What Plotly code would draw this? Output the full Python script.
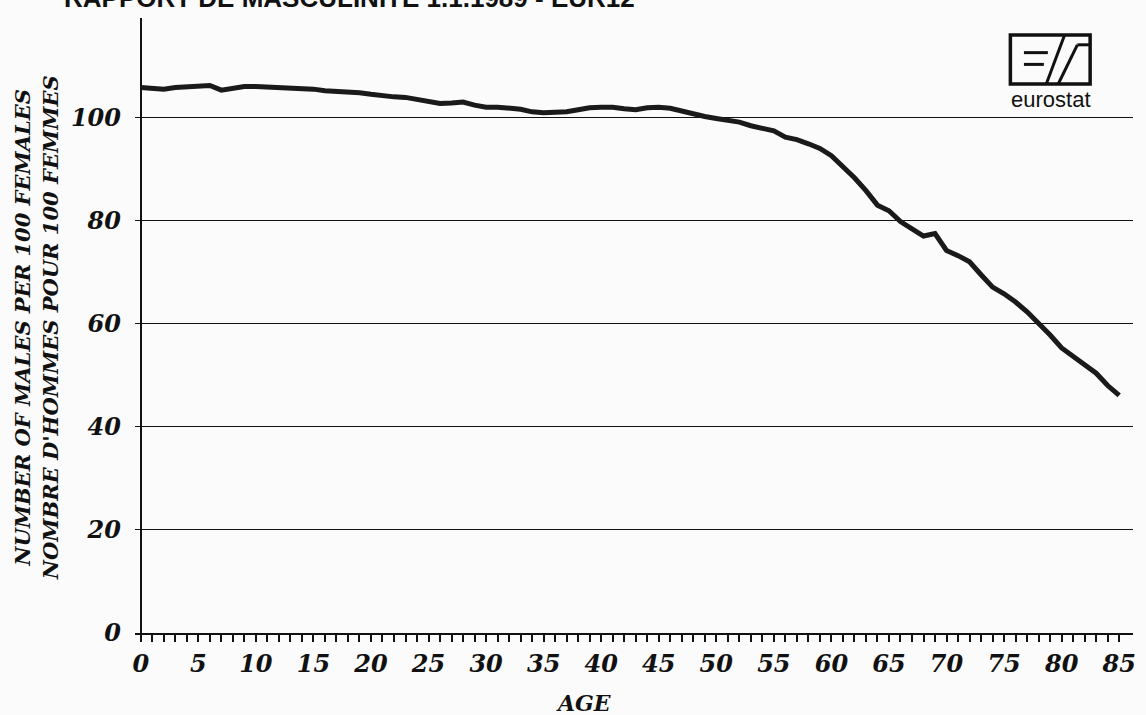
import plotly.graph_objects as go

# Sex ratio (males per 100 females) by single year of age, EUR12, 1.1.1989
ages = list(range(0, 86))
ratio = [105.8, 105.6, 105.5, 105.8, 105.9, 106.0, 106.2, 105.3, 105.6, 106.0,
         106.0, 105.9, 105.9, 105.8, 105.7, 105.5, 105.2, 105.1, 105.1, 104.8,
         104.5, 104.2, 104.0, 103.9, 103.5, 102.9, 102.7, 102.8, 103.0, 102.4,
         102.0, 102.0, 101.9, 101.6, 101.1, 100.9, 101.0, 101.1, 101.5, 101.9,
         102.0, 102.0, 101.7, 101.5, 101.9, 102.0, 101.8, 101.2, 100.6, 100.2,
         99.8, 99.5, 99.1, 98.4, 97.8, 97.4, 96.2, 95.7, 94.9, 94.0,
         92.6, 90.6, 88.3, 85.8, 83.0, 81.9, 79.8, 78.4, 77.0, 77.5,
         74.2, 73.2, 72.0, 69.5, 67.1, 65.8, 64.2, 62.3, 60.2, 57.8,
         55.3, 53.6, 52.0, 50.4, 48.0, 46.1]

x_ticks = list(range(0, 86, 5))
y_ticks = [0, 20, 40, 60, 80, 100]

title = "RAPPORT DE MASCULINITE 1.1.1989 - EUR12"
y_title = "NUMBER OF MALES PER 100 FEMALES<br>NOMBRE D'HOMMES POUR 100 FEMMES"
x_title = "AGE"

W, H = 1146, 715
ML, MR, MT, MB = 135, 10, 18, 82
PW, PH = W - ML - MR, H - MT - MB

serif_bi = dict(family="DejaVu Serif", color="#111", weight="bold", style="italic")


def px(xp):
    return (xp - ML) / PW


def py(yp):
    return (H - MB - yp) / PH


fig = go.Figure()
fig.add_trace(go.Scatter(
    x=ages, y=ratio, mode="lines",
    line=dict(color="#1a1a1a", width=5),
    hoverinfo="skip", showlegend=False))

fig.update_xaxes(
    range=[-0.5, 86.2], tickvals=x_ticks, ticktext=[str(t) for t in x_ticks],
    ticks="outside", ticklen=7, tickwidth=1.5, tickcolor="#111",
    minor=dict(tickvals=ages, ticks="outside", ticklen=7, tickwidth=1.5, tickcolor="#111"),
    showgrid=False, showline=True, linecolor="#111", linewidth=2,
    zeroline=True, zerolinecolor="#111", zerolinewidth=2,
    tickfont=dict(size=24, **serif_bi), ticklabelstandoff=1)

fig.update_yaxes(
    range=[0, 119.3], tickvals=y_ticks, ticks="",
    showgrid=True, gridcolor="#111", gridwidth=1.3,
    zeroline=False, showline=False,
    tickfont=dict(size=24, **serif_bi), ticklabelstandoff=13)

# eurostat logo
bx0, by0, bx1, by1 = 1013, 35, 1093, 84
bw, bh = bx1 - bx0, by1 - by0


def lp(u, v):
    return px(bx0 + u * bw), py(by0 + v * bh)


shapes = []
x0, y0 = lp(0, 0)
x1, y1 = lp(1, 1)
shapes.append(dict(type="rect", xref="paper", yref="paper", x0=x0, y0=y1, x1=x1, y1=y0,
                   line=dict(color="#111", width=3.5)))
for (u0, v0, u1, v1) in [(0.17, 0.36, 0.47, 0.36), (0.17, 0.6, 0.42, 0.6),
                         (0.45, 1.0, 0.68, 0.0), (0.6, 1.0, 0.84, 0.2),
                         (0.84, 0.2, 1.0, 0.2)]:
    a0, b0 = lp(u0, v0)
    a1, b1 = lp(u1, v1)
    shapes.append(dict(type="line", xref="paper", yref="paper", x0=a0, y0=b0, x1=a1, y1=b1,
                       line=dict(color="#111", width=3)))

annotations = [
    dict(text="eurostat", xref="paper", yref="paper", x=px(1054), y=py(100),
         xanchor="center", yanchor="middle", showarrow=False,
         font=dict(family="Liberation Sans", size=22, color="#111")),
    dict(text="<b>" + title + "</b>", xref="paper", yref="paper", x=px(62), y=py(15),
         xanchor="left", yanchor="bottom", showarrow=False,
         font=dict(family="Liberation Sans", size=26, color="#111")),
    dict(text=y_title, xref="paper", yref="paper", x=px(36), y=py(328),
         xanchor="center", yanchor="middle", textangle=-90, showarrow=False,
         font=dict(size=21, **serif_bi)),
    dict(text=x_title, xref="paper", yref="paper", x=px(585), y=py(703),
         xanchor="center", yanchor="middle", showarrow=False,
         font=dict(size=22, **serif_bi)),
]

fig.update_layout(
    width=W, height=H,
    margin=dict(l=ML, r=MR, t=MT, b=MB),
    paper_bgcolor="#fbfbfb", plot_bgcolor="#fbfbfb",
    shapes=shapes, annotations=annotations,
    showlegend=False)

fig.write_html("out.html", config={"displayModeBar": False},
               post_script="document.body.style.margin = '0';")
